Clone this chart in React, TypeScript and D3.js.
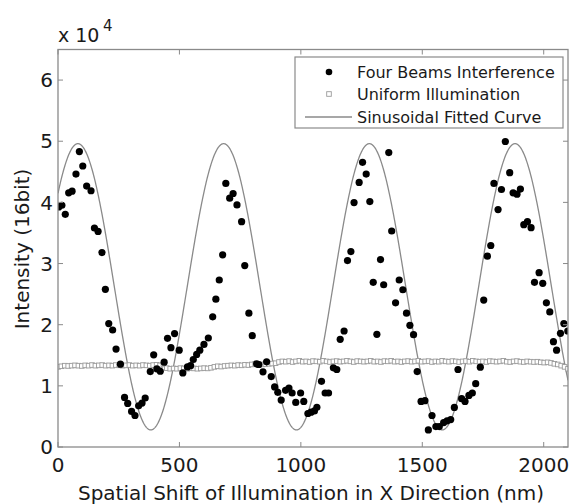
import * as d3 from 'd3';

// Four Beams Interference: x (nm), intensity
const beamX = [3, 16, 30, 44, 58, 74, 88, 102, 118, 136, 150, 165, 181, 195, 209, 225, 239, 257, 274, 287,
  303, 317, 332, 346, 359, 380, 394, 407, 421, 437, 451, 465, 480, 499, 514, 533, 546, 557, 571, 584,
  601, 619, 637, 650, 664, 678, 691, 707, 721, 737, 756, 769, 786, 800, 818, 827, 844, 859, 878, 892,
  905, 919, 937, 951, 964, 979, 999, 1012, 1029, 1042, 1056, 1066, 1085, 1100, 1114, 1134, 1148, 1162, 1178, 1192,
  1206, 1219, 1240, 1254, 1269, 1284, 1298, 1313, 1328, 1341, 1362, 1374, 1390, 1405, 1420, 1435, 1449, 1464, 1479, 1495,
  1511, 1525, 1540, 1556, 1570, 1588, 1602, 1617, 1632, 1647, 1662, 1676, 1692, 1706, 1720, 1739, 1753, 1768, 1782, 1795,
  1812, 1826, 1842, 1860, 1874, 1890, 1904, 1918, 1933, 1948, 1962, 1981, 1996, 2011, 2025, 2040, 2053, 2069, 2083, 2099];
const beamY = [39260, 39530, 38050, 41570, 41830, 44630, 48310, 45950, 42660, 41900, 35810, 35250, 31800, 25780, 20180, 19130, 16010, 13540, 8110, 7130,
  5810, 5150, 6740, 7190, 8010, 12340, 15080, 12780, 12390, 13870, 17770, 16240, 18540, 15840, 12120, 13100, 13300, 14310, 15130, 15840,
  16780, 17820, 21280, 24180, 27310, 31420, 43100, 40690, 41450, 39590, 36850, 29670, 21880, 18200, 13600, 13490, 12290, 13930, 11520, 9820,
  8940, 7680, 9260, 9650, 8830, 7290, 8830, 7450, 5480, 5700, 5900, 6500, 10740, 8830, 8830, 12950, 12670, 17600, 18970, 30480,
  31960, 39970, 43260, 46550, 44630, 40140, 26930, 18420, 30650, 26530, 48150, 35320, 23570, 27310, 25710, 21880, 19900, 18370, 12340, 7450,
  7570, 2800, 5150, 3340, 3340, 4000, 4280, 4490, 6470, 12670, 7900, 7450, 8440, 8830, 10360, 13050, 24020, 31200, 32950, 43100,
  38820, 42110, 49960, 44860, 41570, 41340, 42170, 36350, 36850, 35860, 26930, 28510, 26770, 23570, 22090, 17220, 15840, 18590, 20180, 18970];

// Uniform Illumination, sampled every 14 nm from 0
const uniformStep = 14;
const uniformY = [
  13100, 13200, 13300, 13250, 13300, 13350, 13300, 13250, 13350, 13300, 13400, 13300, 13350, 13400, 13300, 13350,
  13300, 13400, 13350, 13300, 13350, 13400, 13300, 13350, 13300, 13400, 13350, 13300, 13400, 13450, 13350, 13500,
  12900, 12800, 12850, 12800, 12900, 12850, 12800, 12900, 12850, 12800, 12850, 12900, 12850, 12950,
  13100, 13200, 13150, 13250, 13300, 13350, 13300, 13400, 13350, 13450, 13400, 13500, 13600, 13450, 13500, 13550, 13600, 13650, 13700,
  13900, 14000, 13950, 14050, 13900, 14000, 14100, 13950, 14000, 13900, 14050, 14000, 13950, 14100, 14000, 13900, 14000, 14050, 13950, 14000,
  14100, 14000, 13900, 14050, 14000, 13950, 14000, 14100, 13950, 14000, 13900, 14050, 14000, 14100, 13950, 14000, 13900, 14000, 14050, 13950,
  14000, 14100, 13950, 14000, 14050, 13900, 14000, 13950, 14100, 14000, 13950, 14050, 14000, 13900, 14000, 14050, 13950, 14100, 14000, 13950,
  14000, 13900, 14050, 14000, 13950, 14000, 14100, 13950, 13900, 14000, 14050, 13950, 13900, 14000, 13950,
  13900, 13950, 13850, 13800, 13850, 13750, 13600, 13500, 13300, 13100, 12800];

// sinusoidal fit parameters
const fitOffset = 26200;
const fitAmp = 23400;
const fitPeriod = 600;
const fitPeak = 82;

const xTicks = [0, 500, 1000, 1500, 2000];
const yTicks = [0, 1, 2, 3, 4, 5, 6];
const legendLabels = ['Four Beams Interference', 'Uniform Illumination', 'Sinusoidal Fitted Curve'];

const FONT = 'DejaVu Sans, Verdana, sans-serif';
const GRAY = '#8a8a8a';
const INK = '#1a1a1a';

export default function App() {
  const W = 570, H = 504;
  const m = { left: 58, right: 568, top: 49.5, bottom: 447 };
  const x = d3.scaleLinear().domain([0, 2100]).range([m.left, m.right]);
  const y = d3.scaleLinear().domain([0, 65000]).range([m.bottom, m.top]);

  const curveX = d3.range(0, 2100.5, 2);
  const line = d3.line<number>()
    .x(d => x(d))
    .y(d => y(fitOffset + fitAmp * Math.cos(2 * Math.PI * (d - fitPeak) / fitPeriod)));

  const sq = 4.6;
  const tl = 5;

  return (
    <svg width={W} height={H} style={{ position: 'absolute', left: 0, top: 0, background: '#fff' }}
      fontFamily={FONT}>
      <defs>
        <clipPath id="plot">
          <rect x={m.left} y={m.top} width={m.right - m.left} height={m.bottom - m.top} />
        </clipPath>
      </defs>

      <g clipPath="url(#plot)">
        <path d={line(curveX) || ''} fill="none" stroke={GRAY} strokeWidth={1.3} />
        {uniformY.map((v, i) => (
          <rect key={'u' + i} x={x(i * uniformStep) - sq / 2} y={y(v) - sq / 2} width={sq} height={sq}
            fill="#fff" stroke="#9a9a9a" strokeWidth={0.9} />
        ))}
        {beamX.map((v, i) => (
          <circle key={'b' + i} cx={x(v)} cy={y(beamY[i])} r={3.6} fill="#000" />
        ))}
      </g>

      {/* frame and ticks */}
      <rect x={m.left} y={m.top} width={m.right - m.left} height={m.bottom - m.top}
        fill="none" stroke={GRAY} strokeWidth={1.3} />
      {xTicks.map(t => (
        <g key={'xt' + t}>
          <line x1={x(t)} x2={x(t)} y1={m.bottom} y2={m.bottom - tl} stroke={GRAY} />
          <line x1={x(t)} x2={x(t)} y1={m.top} y2={m.top + tl} stroke={GRAY} />
          <text x={x(t)} y={472} textAnchor="middle" fontSize={20} fill={INK}>{t}</text>
        </g>
      ))}
      {yTicks.map(t => (
        <g key={'yt' + t}>
          <line x1={m.left} x2={m.left + tl} y1={y(t * 10000)} y2={y(t * 10000)} stroke={GRAY} />
          <line x1={m.right} x2={m.right - tl} y1={y(t * 10000)} y2={y(t * 10000)} stroke={GRAY} />
          <text x={53} y={y(t * 10000)} dy="0.36em" textAnchor="end" fontSize={20} fill={INK}>{t}</text>
        </g>
      ))}

      <text x={58} y={42} fontSize={19} fill={INK}>x 10</text>
      <text x={103} y={31} fontSize={15} fill={INK}>4</text>

      <text x={311} y={500} textAnchor="middle" fontSize={20} fill={INK}>
        Spatial Shift of Illumination in X Direction (nm)
      </text>
      <text transform="translate(29,249) rotate(-90)" textAnchor="middle" fontSize={20} fill={INK}>
        Intensity (16bit)
      </text>

      {/* legend */}
      <g>
        <rect x={295} y={57} width={268} height={71} fill="#fff" stroke={GRAY} strokeWidth={1.2} />
        <circle cx={329} cy={72} r={3.3} fill="#000" />
        <rect x={329 - 2.3} y={94 - 2.3} width={4.6} height={4.6} fill="#fff" stroke="#9a9a9a" strokeWidth={0.9} />
        <line x1={305} x2={352} y1={117} y2={117} stroke={GRAY} strokeWidth={1.3} />
        {legendLabels.map((l, i) => (
          <text key={l} x={357} y={72 + i * 22.5} dy="0.36em" fontSize={16} fill={INK}>{l}</text>
        ))}
      </g>
    </svg>
  );
}
